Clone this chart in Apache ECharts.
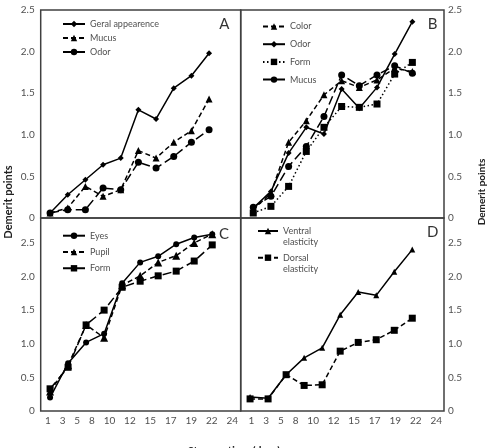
<!DOCTYPE html>
<html lang="en">
<head>
<meta charset="UTF-8">
<title>Demerit points</title>
<script src="https://cdn.jsdelivr.net/npm/echarts@6/dist/echarts.min.js"></script>
<style>body{margin:0;background:#fff}#main{width:491px;height:448px}</style>
</head>
<body>
<div id="main"></div>
<script>
// storage time tick labels (days)
var xTicks = ['1', '3', '5', '8', '10', '12', '15', '17', '19', '22', '24'];

// A
var aGeral = [0.06, 0.28, 0.46, 0.64, 0.72, 1.30, 1.19, 1.56, 1.71, 1.98];
var aMucus = [0.06, 0.12, 0.38, 0.26, 0.34, 0.81, 0.72, 0.91, 1.05, 1.43];
var aOdor  = [0.06, 0.10, 0.10, 0.36, 0.34, 0.67, 0.60, 0.74, 0.91, 1.06];
// B
var bColor = [0.10, 0.30, 0.91, 1.17, 1.48, 1.65, 1.57, 1.66, 1.80, 1.76];
var bOdor  = [0.12, 0.32, 0.78, 1.09, 1.01, 1.55, 1.32, 1.57, 1.97, 2.36];
var bForm  = [0.06, 0.14, 0.38, 0.80, 1.09, 1.34, 1.33, 1.37, 1.73, 1.87];
var bMucus = [0.13, 0.26, 0.62, 0.86, 1.22, 1.72, 1.59, 1.72, 1.83, 1.74];
// C
var cEyes  = [0.20, 0.71, 1.02, 1.15, 1.90, 2.21, 2.30, 2.48, 2.58, 2.63];
var cPupil = [0.29, 0.68, 1.28, 1.09, 1.87, 2.01, 2.21, 2.31, 2.50, 2.63];
var cForm  = [0.33, 0.65, 1.28, 1.50, 1.84, 1.93, 2.01, 2.08, 2.23, 2.47];
// D
var dVentral = [0.21, 0.19, 0.54, 0.79, 0.94, 1.43, 1.77, 1.72, 2.07, 2.40];
var dDorsal  = [0.18, 0.18, 0.54, 0.38, 0.39, 0.89, 1.02, 1.06, 1.20, 1.38];

var FONT = 'Lato';
var LABEL = '#505050';

var chart = echarts.init(document.getElementById('main'));

// panel boxes
var grids = [
  {left: 40.7, top: 10, width: 200, height: 208},
  {left: 240.7, top: 10, width: 203.3, height: 208},
  {left: 40.7, top: 218, width: 200, height: 193},
  {left: 240.7, top: 218, width: 203.3, height: 193}
];
var xRange = [[-0.53, 10.79], [-0.71, 10.79], [-0.52, 10.58], [-0.52, 10.76]];
var yMax = [2.5, 2.5, 2.87, 2.87];

function line(p, name, vals, dash, symbol, size) {
  return {
    type: 'line',
    name: p + '|' + name,
    xAxisIndex: p, yAxisIndex: p,
    data: vals.map(function (v, i) { return [i, v]; }),
    symbol: symbol, symbolSize: size,
    lineStyle: {color: '#000', width: 1.5, type: dash},
    itemStyle: {color: '#000'},
    animation: false
  };
}

var SHORT = [5, 3], LONG = [9, 4], DOT = [1.5, 2.5];

var series = [
  line(0, 'Geral appearence', aGeral, 'solid', 'diamond', 6),
  line(0, 'Mucus', aMucus, SHORT, 'triangle', 7),
  line(0, 'Odor', aOdor, LONG, 'circle', 7),
  line(1, 'Color', bColor, SHORT, 'triangle', 7),
  line(1, 'Odor', bOdor, 'solid', 'diamond', 6),
  line(1, 'Form', bForm, DOT, 'rect', 7),
  line(1, 'Mucus', bMucus, LONG, 'circle', 7),
  line(2, 'Eyes', cEyes, 'solid', 'circle', 6),
  line(2, 'Pupil', cPupil, SHORT, 'triangle', 8),
  line(2, 'Form', cForm, LONG, 'rect', 7),
  line(3, 'Ventral\nelasticity', dVentral, 'solid', 'triangle', 6),
  line(3, 'Dorsal\nelasticity', dDorsal, SHORT, 'rect', 7)
];

function legend(p, left, top, gap, twoLine) {
  var names = series.filter(function (s) { return s.xAxisIndex === p; })
    .map(function (s) { return s.name; });
  var lg = {
    data: names, orient: 'vertical', left: left, top: top, padding: 0,
    itemWidth: 22, itemHeight: 8, itemGap: gap,
    formatter: function (n) { return n.split('|')[1]; },
    textStyle: {fontFamily: FONT, fontSize: 9, color: LABEL, lineHeight: 12},
    selectedMode: false
  };
  if (twoLine) {
    // blank first line so the marker sits level with the first text line
    lg.itemWidth = 20;
    lg.formatter = function (n) { return '\n' + n.split('|')[1]; };
    lg.textStyle.lineHeight = 11;
    lg.textStyle.backgroundColor = 'transparent';
  }
  return lg;
}

var fmt = function (v) { return v === 0 ? '0' : v.toFixed(1); };

var option = {
  animation: false,
  grid: grids.map(function (g) {
    return Object.assign({show: true, borderColor: '#404040', borderWidth: 1.5, containLabel: false}, g);
  }),
  xAxis: grids.map(function (g, i) {
    return {type: 'value', gridIndex: i, min: xRange[i][0], max: xRange[i][1], show: false};
  }),
  yAxis: grids.map(function (g, i) {
    return {
      type: 'value', gridIndex: i, min: 0, max: yMax[i], interval: 0.5,
      position: i % 2 === 0 ? 'left' : 'right',
      axisLine: {show: false}, axisTick: {show: false}, splitLine: {show: false},
      axisLabel: {
        fontFamily: FONT, fontSize: 10, color: LABEL, margin: i % 2 === 0 ? 6 : 4,
        formatter: fmt, showMaxLabel: i < 2
      }
    };
  }),
  legend: [
    legend(0, 62, 18, 2),
    legend(1, 262, 20.5, 5.7),
    legend(2, 62, 229.7, 4.3),
    legend(3, 257, 214.5, -6.3, true)
  ],
  series: series,
  graphic: []
};

// x tick labels: spread evenly as a row under the bottom panels
var ctx = document.createElement('canvas').getContext('2d');
ctx.font = '10px ' + FONT;
function tickRow(x0, x1, y) {
  var w = xTicks.map(function (t) { return ctx.measureText(t).width; });
  var total = w.reduce(function (a, b) { return a + b; }, 0);
  var gap = (x1 - x0 - total) / (xTicks.length - 1);
  var x = x0, out = [];
  xTicks.forEach(function (t, i) {
    out.push({type: 'text', x: x, y: y, silent: true,
      style: {text: t, fontFamily: FONT, fontSize: 10, fill: LABEL, align: 'left', verticalAlign: 'middle'}});
    x += w[i] + gap;
  });
  return out;
}

var g = [];
g = g.concat(tickRow(45, 238, 421), tickRow(248.5, 442, 421));
[['A', 224.3, 24], ['B', 432.7, 24.3], ['C', 224, 234], ['D', 432.7, 231.7]].forEach(function (l) {
  g.push({type: 'text', x: l[1], y: l[2], silent: true,
    style: {text: l[0], fontFamily: FONT, fontSize: 15, fill: '#333', align: 'center', verticalAlign: 'middle'}});
});
g.push({type: 'text', x: 8, y: 202, rotation: Math.PI / 2, silent: true,
  style: {text: 'Demerit points', fontFamily: FONT, fontSize: 11, fontWeight: 'bold', fill: '#222', align: 'center', verticalAlign: 'middle'}});
g.push({type: 'text', x: 482, y: 192, rotation: Math.PI / 2, silent: true,
  style: {text: 'Demerit points', fontFamily: FONT, fontSize: 10, fontWeight: 'bold', fill: '#222', align: 'center', verticalAlign: 'middle'}});
g.push({type: 'text', x: 234, y: 446, silent: true,
  style: {text: 'Storage time (days)', fontFamily: FONT, fontSize: 11, fontWeight: 'bold', fill: '#222', align: 'center', verticalAlign: 'top'}});
option.graphic = g;

chart.setOption(option);
</script>
</body>
</html>
